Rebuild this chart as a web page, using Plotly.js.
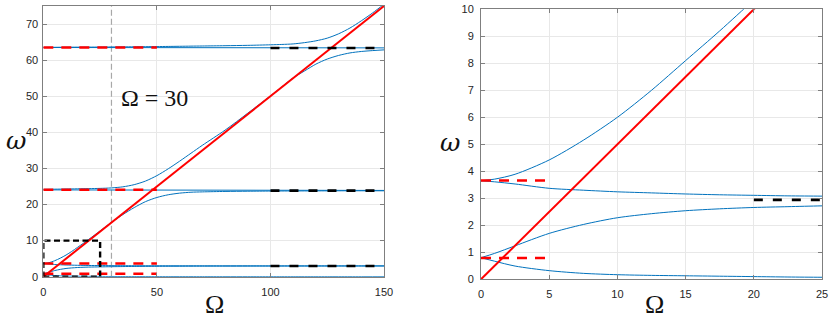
<!DOCTYPE html>
<html>
<head>
<meta charset="utf-8">
<script src="https://cdn.plot.ly/plotly-3.0.1.min.js"></script>
<style>html,body{margin:0;padding:0;background:#fff;}#chart{width:830px;height:318px;}</style>
</head>
<body>
<div id="chart"></div>
<script>
// ---- data ----
const omegaGrid = [0,1,2.5,5,7.5,10,12.5,15,17.5,20,22.5,25,30,35,40,45,50,55,60,65,70,80,90,100,105,110,115,120,125,130,135,140,145,150];
const branchA = [0.80,0.67,0.49,0.32,0.22,0.17,0.145,0.13,0.115,0.10,0.085,0.075,0.06,0.05,0.045,0.04,0.035,0.032,0.03,0.028,0.026,0.022,0.02,0.018,0.017,0.016,0.015,0.015,0.014,0.013,0.013,0.012,0.012,0.011];
const branchB = [0.80,0.96,1.24,1.70,2.03,2.28,2.43,2.54,2.61,2.66,2.69,2.72,2.77,2.81,2.84,2.86,2.88,2.89,2.90,2.91,2.92,2.93,2.935,2.94,2.94,2.945,2.945,2.95,2.95,2.95,2.955,2.955,2.96,2.96];
const branchC = [3.65,3.61,3.53,3.37,3.30,3.24,3.20,3.16,3.13,3.11,3.09,3.08,3.06,3.05,3.04,3.035,3.03,3.025,3.02,3.02,3.015,3.01,3.01,3.005,3.005,3.0,3.0,3.0,3.0,3.0,3.0,3.0,3.0,3.0];
const branchD = [3.65,3.71,3.89,4.42,5.15,6.0,7.0,8.1,9.2,10.35,11.5,12.7,15.05,17.2,19.15,20.8,21.95,22.7,23.15,23.4,23.5,23.62,23.68,23.72,23.74,23.75,23.76,23.77,23.78,23.79,23.8,23.8,23.8,23.8];
const branchE = [24.2,24.21,24.22,24.25,24.27,24.3,24.32,24.35,24.38,24.4,24.43,24.47,24.6,24.9,25.5,26.5,28.0,29.9,32.0,34.2,36.4,40.6,45.3,50.1,52.6,55.1,57.0,58.9,60.3,61.3,62.0,62.4,62.65,62.85];
const branchF = [63.55,63.55,63.55,63.56,63.57,63.58,63.59,63.6,63.6,63.61,63.62,63.63,63.65,63.68,63.7,63.73,63.76,63.8,63.84,63.88,63.92,64.0,64.1,64.25,64.35,64.5,64.85,65.35,66.1,67.3,68.9,70.9,73.1,75.5];
const flatOmega = [0,50,100,150];
const flatG = [24.05,24.0,23.95,23.9];
const flatH = [63.5,63.45,63.42,63.4];
const diagOmega = [0,150];
const diagValues = [0,75];
const redDashLevelsLeft = [0.8,3.65,24.1,63.5];
const redDashSpanLeft = [0,50];
const redDashLevelsRight = [0.79,3.66];
const redDashSpanRight = [0,5];
const blackDashLevelsLeft = [2.95,23.85,63.35];
const blackDashSpanLeft = [100,150];
const blackDashLevelsRight = [2.94];
const blackDashSpanRight = [20,25];
const markerOmega = 30;
const markerSpan = [0,75];
const zoomBoxOmega = [0,25];
const zoomBoxValues = [0,10];
const xTicksLeft = [0,50,100,150];
const yTicksLeft = [0,10,20,30,40,50,60,70];
const xTicksRight = [0,5,10,15,20,25];
const yTicksRight = [0,1,2,3,4,5,6,7,8,9,10];

// ---- styles ----
const BLUE = '#0072BD', RED = '#FF0000';
const traces = [];
// vertical marker line at Omega = 30
traces.push({x:[markerOmega,markerOmega], y:markerSpan, mode:'lines', xaxis:'x', yaxis:'y',
  line:{color:'#a8a8a8', width:1.2, dash:'6px,3px'}, hoverinfo:'skip'});

const branches = [branchA,branchB,branchC,branchD,branchE,branchF];
[['x','y'],['x2','y2']].forEach(([xa,ya]) => {
  branches.forEach(b => traces.push({x:omegaGrid, y:b, mode:'lines', xaxis:xa, yaxis:ya,
    line:{color:BLUE, width:1, shape:'spline', smoothing:0.8}}));
  if (xa === 'x') {
    traces.push({x:flatOmega, y:flatG, mode:'lines', xaxis:xa, yaxis:ya, line:{color:BLUE, width:1}});
    traces.push({x:flatOmega, y:flatH, mode:'lines', xaxis:xa, yaxis:ya, line:{color:BLUE, width:1}});
  }
  traces.push({x:diagOmega, y:diagValues, mode:'lines', xaxis:xa, yaxis:ya, line:{color:RED, width:2}});
});

redDashLevelsLeft.forEach(v => traces.push({x:redDashSpanLeft, y:[v,v], mode:'lines', xaxis:'x', yaxis:'y',
  line:{color:RED, width:2.6, dash:'10px,8px'}}));
redDashLevelsRight.forEach(v => traces.push({x:redDashSpanRight, y:[v,v], mode:'lines', xaxis:'x2', yaxis:'y2',
  line:{color:RED, width:2.6, dash:'10px,8px'}}));
blackDashLevelsLeft.forEach(v => traces.push({x:blackDashSpanLeft, y:[v,v], mode:'lines', xaxis:'x', yaxis:'y',
  line:{color:'#000', width:2.6, dash:'9px,10px'}}));
blackDashLevelsRight.forEach(v => traces.push({x:blackDashSpanRight, y:[v,v], mode:'lines', xaxis:'x2', yaxis:'y2',
  line:{color:'#000', width:2.6, dash:'9px,10px'}}));

// zoom box (region shown in the right panel)
traces.push({x:[zoomBoxOmega[0],zoomBoxOmega[1],zoomBoxOmega[1],zoomBoxOmega[0],zoomBoxOmega[0]],
  y:[zoomBoxValues[0],zoomBoxValues[0],zoomBoxValues[1],zoomBoxValues[1],zoomBoxValues[0]],
  mode:'lines', xaxis:'x', yaxis:'y', line:{color:'#000', width:2.4, dash:'6px,3.5px'}, cliponaxis:false});

const tickFont = {family:'Liberation Sans, Arial, sans-serif', size:11, color:'#262626'};
const axisBase = {showline:true, linecolor:'#7f7f7f', linewidth:1, mirror:'ticks', ticks:'inside', ticklen:4,
  tickcolor:'#7f7f7f', showgrid:true, gridcolor:'#e8e8e8', gridwidth:1, zeroline:false, tickfont:tickFont,
  fixedrange:true};

const layout = {
  width:830, height:318, margin:{l:0,r:0,t:0,b:0}, paper_bgcolor:'#fff', plot_bgcolor:'#fff', showlegend:false,
  xaxis:Object.assign({}, axisBase, {domain:[0.0522,0.4627], anchor:'y', range:[0,150], tickvals:xTicksLeft, ticklabelstandoff:5}),
  yaxis:Object.assign({}, axisBase, {domain:[0.1299,0.9811], anchor:'x', range:[0,75], tickvals:yTicksLeft, ticklabelstandoff:2}),
  xaxis2:Object.assign({}, axisBase, {domain:[0.5795,0.9904], anchor:'y2', range:[0,25], tickvals:xTicksRight, ticklabelstandoff:5}),
  yaxis2:Object.assign({}, axisBase, {domain:[0.1217,0.9708], anchor:'x2', range:[0,10], tickvals:yTicksRight, ticklabelstandoff:4}),
  annotations:[
    {text:'Ω = 30', x:33.3, y:49.5, xref:'x', yref:'y', xanchor:'left', yanchor:'middle', showarrow:false,
     font:{family:'Liberation Serif, Times New Roman, serif', size:24, color:'#111'}},
    {text:'<i>ω</i>', x:16/830, y:1-140/318, xref:'paper', yref:'paper', xanchor:'center', yanchor:'middle', showarrow:false,
     font:{family:'DejaVu Serif, serif', size:25, color:'#111'}},
    {text:'<i>ω</i>', x:450/830, y:1-142/318, xref:'paper', yref:'paper', xanchor:'center', yanchor:'middle', showarrow:false,
     font:{family:'DejaVu Serif, serif', size:25, color:'#111'}},
    {text:'Ω', x:214/830, y:1-304/318, xref:'paper', yref:'paper', xanchor:'center', yanchor:'middle', showarrow:false,
     font:{family:'Liberation Serif, Times New Roman, serif', size:26, color:'#111'}},
    {text:'Ω', x:654/830, y:1-304/318, xref:'paper', yref:'paper', xanchor:'center', yanchor:'middle', showarrow:false,
     font:{family:'Liberation Serif, Times New Roman, serif', size:26, color:'#111'}}
  ]
};
Plotly.newPlot('chart', traces, layout, {staticPlot:true, displayModeBar:false});
</script>
</body>
</html>
